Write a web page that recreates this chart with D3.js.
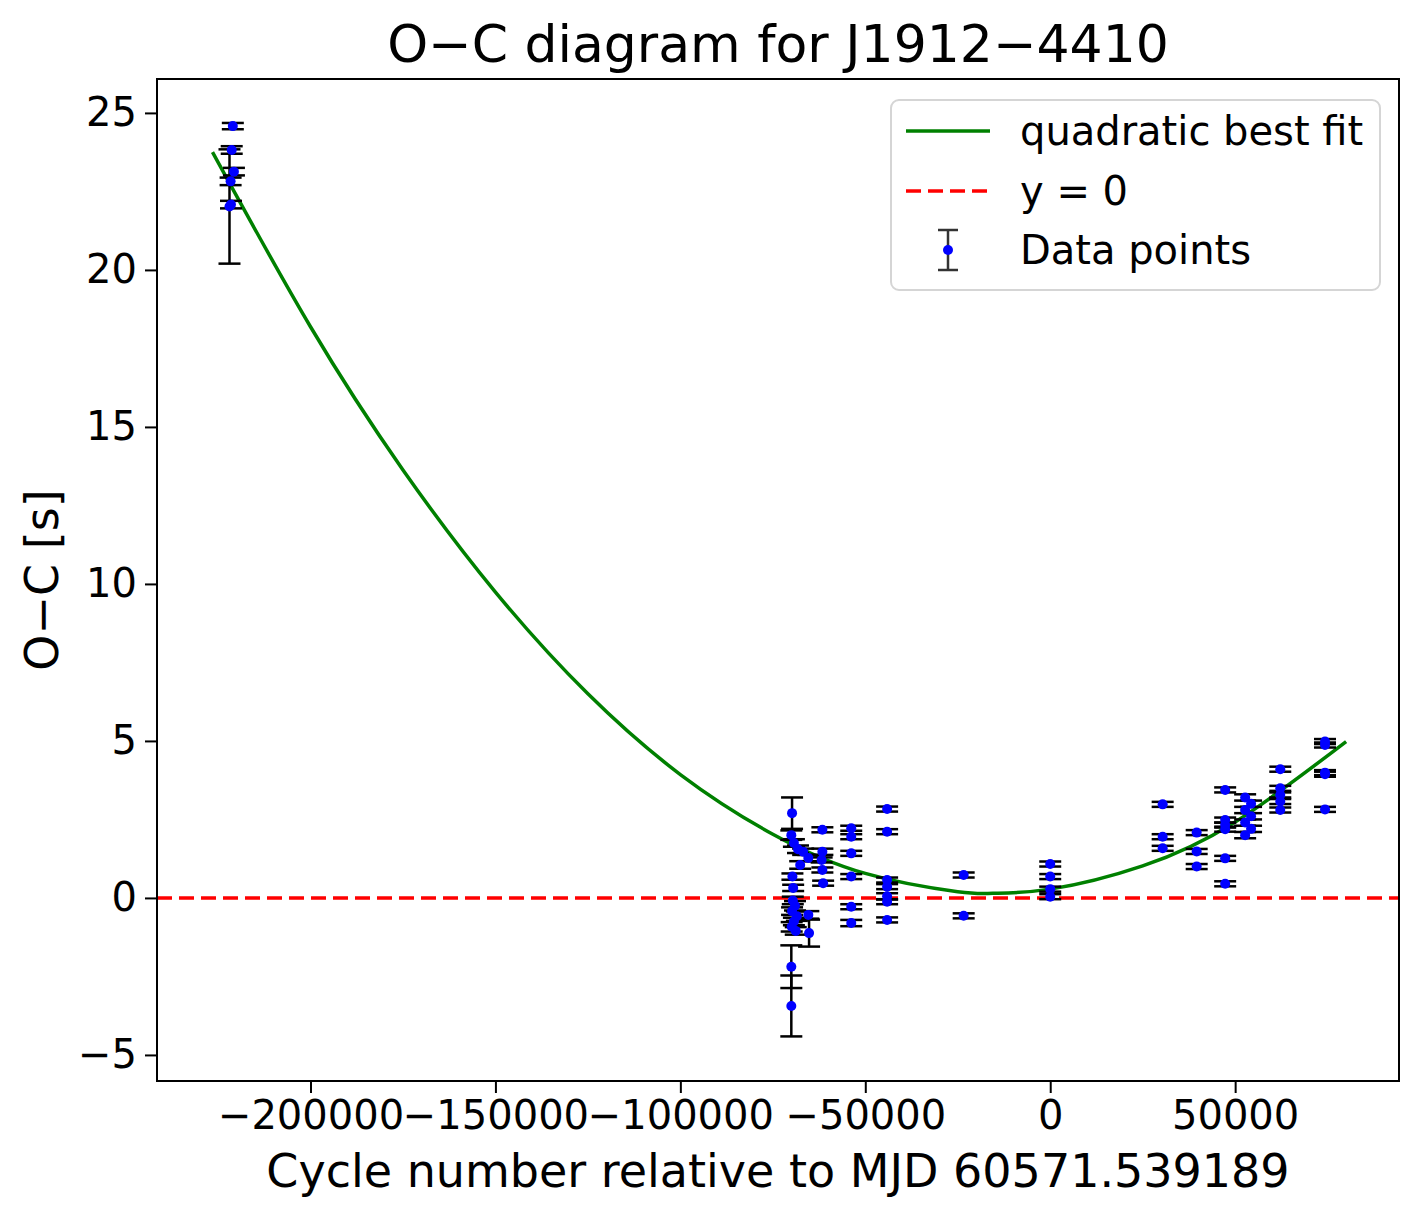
<!DOCTYPE html>
<html>
<head>
<meta charset="utf-8">
<script src="https://cdn.jsdelivr.net/npm/d3@7"></script>
<style>
  body { margin: 0; background: #fff; }
  svg { display: block; font-family: "DejaVu Sans", sans-serif; }
</style>
</head>
<body>
<div id="chart"></div>
<script>
const cycles = [
  -221000, -221300, -220700, -221600, -221900, -221500,
  -69800, -70000, -69300, -68200, -66800, -65400, -67600, -69700, -69500,
  -69600, -69000, -69800, -68500, -69300, -69900, -68800, -65400, -65200,
  -70000, -70000,
  -61600, -61600, -61800, -61600, -61400,
  -53800, -53800, -53800, -53800, -53800, -53800,
  -44100, -44100, -44100, -44100, -44100, -44100, -44100,
  -23400, -23400,
  0, 0, 0, 0,
  30400, 30400, 30400,
  39600, 39600, 39600,
  47300, 47300, 47300, 47300, 47300, 47300,
  52700, 52700, 52700, 52700, 54300, 54300, 54300,
  62200, 62200, 62200, 62200, 62200,
  74300, 74300, 74300, 74300, 74300
];
const oc = [
  24.58, 23.82, 23.13, 22.82, 22.02, 22.08,
  2.70, 2.00, 1.75, 1.55, 1.47, 1.27, 1.05, 0.68, 0.32,
  -0.08, -0.25, -0.42, -0.58, -0.75, -0.92, -1.05, -0.54, -1.12,
  -2.19, -3.44,
  2.17, 1.47, 1.21, 0.89, 0.47,
  2.22, 1.95, 1.42, 0.68, -0.28, -0.80,
  2.83, 2.11, 0.57, 0.36, 0.05, -0.12, -0.70,
  0.73, -0.57,
  1.08, 0.68, 0.28, 0.04,
  2.98, 1.95, 1.58,
  2.08, 1.48, 1.00,
  3.44, 2.48, 2.32, 2.19, 1.26, 0.45,
  3.20, 2.80, 2.40, 2.00, 3.00, 2.60, 2.20,
  4.10, 3.49, 3.28, 3.07, 2.80,
  4.98, 4.87, 3.99, 3.94, 2.82
];
const ocErr = [
  0.10, 0.12, 0.12, 0.12, 1.82, 0.12,
  0.50, 0.15, 0.12, 0.12, 0.10, 0.10, 0.12, 0.10, 0.10,
  0.12, 0.15, 0.12, 0.15, 0.12, 0.15, 0.12, 0.12, 0.43,
  0.68, 0.97,
  0.08, 0.10, 0.08, 0.08, 0.08,
  0.08, 0.08, 0.08, 0.08, 0.08, 0.10,
  0.08, 0.08, 0.08, 0.08, 0.10, 0.08, 0.08,
  0.08, 0.08,
  0.08, 0.08, 0.08, 0.08,
  0.08, 0.08, 0.08,
  0.08, 0.08, 0.08,
  0.08, 0.08, 0.08, 0.08, 0.08, 0.08,
  0.10, 0.10, 0.10, 0.10, 0.10, 0.10, 0.10,
  0.08, 0.08, 0.08, 0.08, 0.08,
  0.08, 0.08, 0.08, 0.08, 0.08
];

// quadratic best fit, sampled off the green curve
const fitCycles = [-226500, -200000, -175000, -150000, -125000, -100000, -75000, -50000, -25000, -15500, 0, 25000, 50000, 80000];
const fitOC     = [23.75, 18.19, 13.63, 9.74, 6.50, 3.93, 2.03, 0.78, 0.20, 0.15, 0.28, 1.02, 2.42, 4.98];

const xTicks = [-200000, -150000, -100000, -50000, 0, 50000];
const yTicks = [-5, 0, 5, 10, 15, 20, 25];
const legendLabels = ["quadratic best fit", "y = 0", "Data points"];

const W = 1410, H = 1211;
const margin = {left: 157, right: 11, top: 79, bottom: 130};

const svg = d3.select("#chart").append("svg")
  .attr("width", W)
  .attr("height", H);

const x = d3.scaleLinear()
  .domain([-241500, 94300])
  .range([margin.left, W - margin.right]);
const y = d3.scaleLinear()
  .domain([-5.83, 26.08])
  .range([H - margin.bottom, margin.top]);

const fmt = d3.format("d");

// zero line
svg.append("line")
  .attr("x1", x.range()[0]).attr("x2", x.range()[1])
  .attr("y1", y(0)).attr("y2", y(0))
  .attr("stroke", "#ff0000")
  .attr("stroke-width", 3.5)
  .attr("stroke-dasharray", "15,7");

// fit curve
const fit = fitCycles.map((c, i) => [c, fitOC[i]]);
svg.append("path")
  .datum(fit)
  .attr("fill", "none")
  .attr("stroke", "#008000")
  .attr("stroke-width", 3.5)
  .attr("d", d3.line().x(d => x(d[0])).y(d => y(d[1])).curve(d3.curveNatural));

// error bars
const pts = cycles.map((c, i) => ({c: c, v: oc[i], e: ocErr[i]}));
const capW = 11;
const eb = svg.append("g")
  .attr("stroke", "#000")
  .attr("stroke-width", 2.5)
  .selectAll("g")
  .data(pts)
  .join("g");
eb.append("line")
  .attr("x1", d => x(d.c)).attr("x2", d => x(d.c))
  .attr("y1", d => y(d.v - d.e)).attr("y2", d => y(d.v + d.e));
eb.append("line")
  .attr("x1", d => x(d.c) - capW).attr("x2", d => x(d.c) + capW)
  .attr("y1", d => y(d.v + d.e)).attr("y2", d => y(d.v + d.e));
eb.append("line")
  .attr("x1", d => x(d.c) - capW).attr("x2", d => x(d.c) + capW)
  .attr("y1", d => y(d.v - d.e)).attr("y2", d => y(d.v - d.e));

svg.append("g")
  .selectAll("circle")
  .data(pts)
  .join("circle")
  .attr("cx", d => x(d.c))
  .attr("cy", d => y(d.v))
  .attr("r", 5)
  .attr("fill", "#0000ff");

// axes
const xAxis = svg.append("g")
  .attr("transform", `translate(0,${H - margin.bottom})`)
  .call(d3.axisBottom(x).tickValues(xTicks).tickFormat(fmt).tickSize(12).tickPadding(8));
const yAxis = svg.append("g")
  .attr("transform", `translate(${margin.left},0)`)
  .call(d3.axisLeft(y).tickValues(yTicks).tickFormat(fmt).tickSize(12).tickPadding(8));
[xAxis, yAxis].forEach(a => {
  a.select(".domain").remove();
  a.selectAll(".tick line").attr("stroke", "#000").attr("stroke-width", 2);
  a.selectAll(".tick text")
    .attr("fill", "#000")
    .style("font-family", "DejaVu Sans")
    .style("font-size", "40px");
});

// frame
svg.append("rect")
  .attr("x", margin.left).attr("y", margin.top)
  .attr("width", W - margin.left - margin.right)
  .attr("height", H - margin.top - margin.bottom)
  .attr("fill", "none")
  .attr("stroke", "#000")
  .attr("stroke-width", 2);

// labels
svg.append("text")
  .attr("x", (margin.left + W - margin.right) / 2)
  .attr("y", 62)
  .attr("text-anchor", "middle")
  .style("font-size", "52px")
  .text("O\u2212C diagram for J1912\u22124410");

svg.append("text")
  .attr("x", (margin.left + W - margin.right) / 2)
  .attr("y", 1187)
  .attr("text-anchor", "middle")
  .style("font-size", "46px")
  .text("Cycle number relative to MJD 60571.539189");

svg.append("text")
  .attr("transform", `translate(58,${(margin.top + H - margin.bottom) / 2}) rotate(-90)`)
  .attr("text-anchor", "middle")
  .style("font-size", "46px")
  .text("O\u2212C [s]");

// legend
const lg = svg.append("g");
lg.append("rect")
  .attr("x", 891).attr("y", 100)
  .attr("width", 489).attr("height", 190)
  .attr("rx", 8)
  .attr("fill", "#fff").attr("fill-opacity", 0.8)
  .attr("stroke", "#d5d5d5").attr("stroke-width", 2);
const rowY = [131, 191, 250];
lg.append("line")
  .attr("x1", 906).attr("x2", 990).attr("y1", rowY[0]).attr("y2", rowY[0])
  .attr("stroke", "#008000").attr("stroke-width", 3.5);
lg.append("line")
  .attr("x1", 906).attr("x2", 990).attr("y1", rowY[1]).attr("y2", rowY[1])
  .attr("stroke", "#ff0000").attr("stroke-width", 3.5).attr("stroke-dasharray", "15,7");
const lgEb = lg.append("g").attr("stroke", "#333").attr("stroke-width", 2.5);
lgEb.append("line").attr("x1", 948).attr("x2", 948).attr("y1", rowY[2] - 20).attr("y2", rowY[2] + 20);
lgEb.append("line").attr("x1", 938).attr("x2", 958).attr("y1", rowY[2] - 20).attr("y2", rowY[2] - 20);
lgEb.append("line").attr("x1", 938).attr("x2", 958).attr("y1", rowY[2] + 20).attr("y2", rowY[2] + 20);
lg.append("circle").attr("cx", 948).attr("cy", rowY[2]).attr("r", 5).attr("fill", "#0000ff");
lg.selectAll("text.lbl")
  .data(legendLabels)
  .join("text")
  .attr("class", "lbl")
  .attr("x", 1020)
  .attr("y", (d, i) => rowY[i] + 14)
  .style("font-size", "40px")
  .text(d => d);
</script>
</body>
</html>
